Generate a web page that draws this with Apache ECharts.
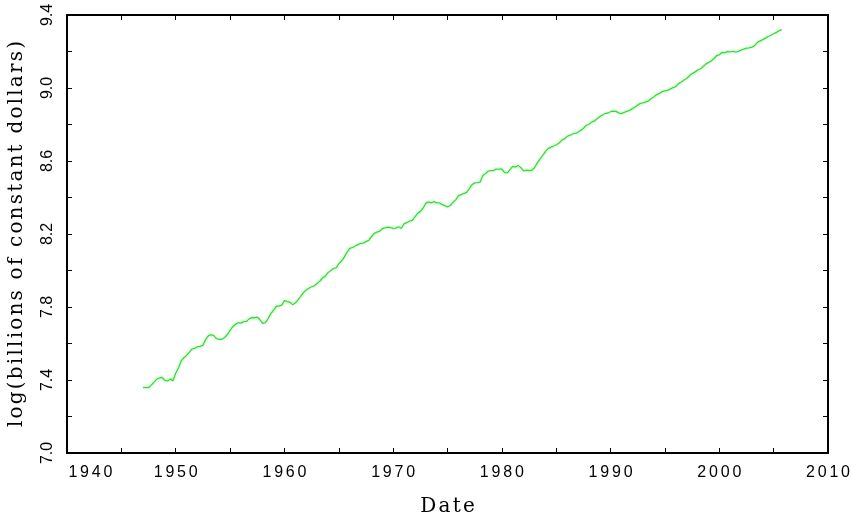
<!DOCTYPE html>
<html>
<head>
<meta charset="utf-8">
<title>log real GDP</title>
<script src="https://cdn.jsdelivr.net/npm/echarts@6/dist/echarts.min.js"></script>
<style>
  html, body { margin: 0; padding: 0; background: #fff; }
  #chart { width: 852px; height: 518px; }
</style>
</head>
<body>
<div id="chart"></div>
<script>
// Quarterly log of real GDP (billions of constant dollars), 1947Q1 - 2005Q4
const firstYear = 1947;
const quartersPerYear = 4;
const logGdp = [
  // 1947-1949
  7.359, 7.358, 7.358, 7.372,  7.388, 7.405, 7.411, 7.414,  7.398, 7.395, 7.406, 7.396,
  // 1950-1959
  7.437, 7.466, 7.504, 7.522,  7.534, 7.551, 7.571, 7.573,  7.583, 7.584, 7.590, 7.622,
  7.642, 7.649, 7.643, 7.627,  7.622, 7.623, 7.633, 7.649,  7.672, 7.692, 7.705, 7.714,
  7.712, 7.720, 7.721, 7.735,  7.742, 7.741, 7.745, 7.730,  7.710, 7.714, 7.737, 7.764,
  7.782, 7.804, 7.805, 7.810,
  // 1960-1969
  7.835, 7.829, 7.826, 7.813,  7.822, 7.839, 7.858, 7.879,  7.893, 7.903, 7.911, 7.916,
  7.929, 7.941, 7.959, 7.968,  7.988, 7.999, 8.011, 8.015,  8.036, 8.052, 8.073, 8.099,
  8.121, 8.125, 8.134, 8.142,  8.149, 8.150, 8.158, 8.165,  8.185, 8.203, 8.210, 8.215,
  8.229, 8.233, 8.238, 8.235,
  // 1970-1979
  8.231, 8.232, 8.240, 8.230,  8.256, 8.262, 8.270, 8.274,  8.294, 8.313, 8.324, 8.341,
  8.368, 8.376, 8.371, 8.377,  8.371, 8.370, 8.362, 8.355,  8.349, 8.356, 8.373, 8.387,
  8.409, 8.416, 8.421, 8.428,  8.447, 8.470, 8.480, 8.481,  8.484, 8.521, 8.532, 8.545,
  8.547, 8.549, 8.555, 8.556,
  // 1980-1989
  8.557, 8.536, 8.535, 8.553,  8.571, 8.567, 8.576, 8.563,  8.546, 8.550, 8.548, 8.549,
  8.563, 8.588, 8.610, 8.630,  8.651, 8.668, 8.676, 8.682,  8.689, 8.697, 8.713, 8.721,
  8.735, 8.740, 8.748, 8.752,  8.757, 8.768, 8.778, 8.795,  8.800, 8.813, 8.818, 8.831,
  8.843, 8.852, 8.860, 8.863,
  // 1990-1999
  8.870, 8.873, 8.872, 8.864,  8.860, 8.867, 8.872, 8.877,  8.887, 8.896, 8.906, 8.916,
  8.918, 8.924, 8.930, 8.942,  8.952, 8.964, 8.970, 8.980,  8.984, 8.987, 8.995, 9.002,
  9.008, 9.024, 9.033, 9.044,  9.052, 9.067, 9.079, 9.087,  9.098, 9.104, 9.116, 9.131,
  9.139, 9.148, 9.160, 9.177,
  // 2000-2005
  9.182, 9.195, 9.194, 9.199,  9.198, 9.201, 9.197, 9.201,  9.208, 9.213, 9.219, 9.220,
  9.224, 9.232, 9.250, 9.258,  9.265, 9.273, 9.282, 9.289,  9.297, 9.305, 9.314, 9.320
];

// Axis ranges and tick steps
const xRange = [1940, 2010];
const xTickStep = 5;
const xLabelStep = 10;
const yRange = [7.0, 9.4];
const yTickStep = 0.2;
const yLabelStep = 0.4;

const xTitle = 'Date';
const yTitle = 'log(billions of constant dollars)';

// Pair each quarter's date with its value
const seriesData = logGdp.map((v, i) => [firstYear + i / quartersPerYear, v]);

const ink = '#000';
const labelFont = 'Liberation Sans';
const titleFont = 'DejaVu Serif';

// Letter-spaced text: each character becomes its own rich segment
function spaced(text, style) {
  return String(text).split('').map(c => '{' + style + '|' + c + '}').join('');
}

const frameLine = { show: true, onZero: false, lineStyle: { color: ink, width: 2 } };
const innerTicks = { show: true, inside: true, length: 5, lineStyle: { color: ink, width: 1 } };
const titleRich = {
  t: { fontFamily: titleFont, fontSize: 20, color: ink, padding: [0, 1.1, 0, 1.1] }
};

const chart = echarts.init(document.getElementById('chart'), null, { renderer: 'canvas' });

chart.setOption({
  animation: false,
  backgroundColor: '#fff',
  grid: {
    left: 67, right: 24, top: 15, bottom: 65,
    containLabel: false, outerBoundsMode: 'none'
  },
  xAxis: [
    {
      type: 'value', position: 'bottom',
      min: xRange[0], max: xRange[1], interval: xTickStep,
      axisLine: frameLine, axisTick: innerTicks, splitLine: { show: false },
      axisLabel: {
        margin: 12,
        alignMinLabel: 'left',
        formatter: v => (Math.round(v) % xLabelStep === 0 ? spaced(Math.round(v), 'd') : ''),
        rich: {
          d: { fontFamily: labelFont, fontSize: 16, color: ink, padding: [0, 1.4, 0, 1.4] }
        }
      },
      name: spaced(xTitle, 't'), nameLocation: 'middle', nameGap: 44,
      nameTextStyle: { fontFamily: titleFont, fontSize: 20, color: ink, rich: titleRich }
    },
    {
      type: 'value', position: 'top',
      min: xRange[0], max: xRange[1], interval: xTickStep,
      axisLine: frameLine, axisTick: innerTicks,
      axisLabel: { show: false }, splitLine: { show: false }
    }
  ],
  yAxis: [
    {
      type: 'value', position: 'left',
      min: yRange[0], max: yRange[1], interval: yTickStep,
      axisLine: frameLine, axisTick: innerTicks, splitLine: { show: false },
      axisLabel: {
        rotate: 90, margin: 11,
        fontFamily: labelFont, fontSize: 16, color: ink,
        formatter: v => {
          const k = Math.round((v - yRange[0]) / yTickStep);
          const every = Math.round(yLabelStep / yTickStep);
          return k % every === 0 ? v.toFixed(1) : '';
        }
      },
      name: spaced(yTitle, 't'), nameLocation: 'middle', nameGap: 40, nameRotate: 90,
      nameTextStyle: { fontFamily: titleFont, fontSize: 20, color: ink, rich: titleRich }
    },
    {
      type: 'value', position: 'right',
      min: yRange[0], max: yRange[1], interval: yTickStep,
      axisLine: frameLine, axisTick: innerTicks,
      axisLabel: { show: false }, splitLine: { show: false }
    }
  ],
  series: [
    {
      type: 'line',
      xAxisIndex: 0, yAxisIndex: 0,
      data: seriesData,
      showSymbol: false, symbol: 'none',
      lineStyle: { color: '#00ff00', width: 1.3 },
      silent: true
    }
  ]
});
</script>
</body>
</html>
